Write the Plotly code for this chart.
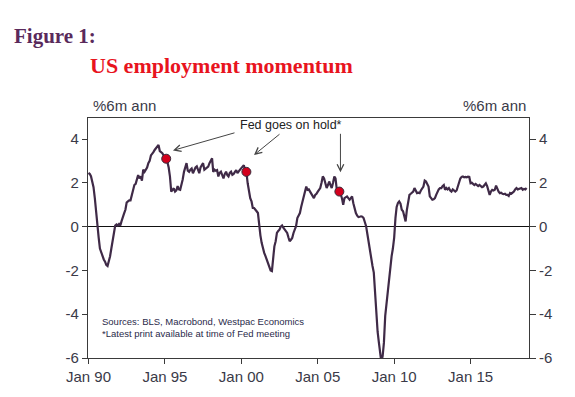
import plotly.graph_objects as go

start_year = 1990
# Monthly values, one row per year (%6m annualised)
values_by_year = [
    [2.45, 2.4, 2.3, 2.1, 1.8, 1.3, 0.6, 0.0, -0.5, -1.0, -1.2, -1.4],          # 1990
    [-1.5, -1.6, -1.75, -1.8, -1.6, -1.35, -1.0, -0.6, -0.2, 0.05, 0.1, 0.05],  # 1991
    [0.12, 0.05, 0.25, 0.47, 0.6, 0.77, 1.1, 1.15, 1.2, 1.2, 1.45, 1.7],        # 1992
    [1.9, 1.95, 2.1, 2.35, 2.2, 2.3, 2.1, 2.6, 2.5, 2.6, 2.7, 2.9],             # 1993
    [3.0, 3.25, 3.3, 3.4, 3.5, 3.6, 3.65, 3.73, 3.45, 3.4, 3.35, 3.25],         # 1994
    [3.15, 3.1, 2.95, 2.7, 2.3, 1.6, 1.7, 1.75, 1.6, 1.65, 1.85, 1.7],          # 1995
    [1.68, 1.9, 2.15, 2.5, 2.75, 2.9, 2.55, 2.5, 2.6, 2.65, 2.44, 2.6],         # 1996
    [2.7, 2.75, 2.55, 2.44, 2.7, 2.8, 2.9, 2.6, 2.65, 2.7, 2.74, 2.9],          # 1997
    [3.0, 3.12, 2.5, 2.6, 2.55, 2.58, 2.29, 2.45, 2.51, 2.35, 2.2, 2.4],        # 1998
    [2.51, 2.35, 2.29, 2.45, 2.51, 2.36, 2.4, 2.5, 2.58, 2.44, 2.5, 2.6],       # 1999
    [2.67, 2.74, 2.8, 2.6, 2.5, 1.98, 1.53, 1.3, 1.15, 0.85, 0.85, 0.75],       # 2000
    [0.7, 0.62, 0.02, -0.4, -0.74, -1.0, -1.2, -1.35, -1.5, -1.7, -1.88, -2.0], # 2001
    [-2.03, -1.2, -0.9, -0.67, -0.29, -0.2, -0.14, 0.0, 0.05, -0.05, -0.14, -0.2],  # 2002
    [-0.29, -0.5, -0.67, -0.6, -0.52, -0.29, -0.1, 0.02, 0.39, 0.5, 0.62, 0.9], # 2003
    [1.15, 1.35, 1.53, 1.83, 1.68, 1.7, 1.6, 1.5, 1.4, 1.3, 1.45, 1.5],         # 2004
    [1.6, 1.68, 1.76, 2.0, 2.29, 2.2, 2.0, 1.76, 1.9, 2.06, 1.9, 1.76],         # 2005
    [2.0, 2.29, 2.2, 1.68, 1.7, 1.6, 1.5, 1.3, 1.0, 1.3, 1.35, 1.38],           # 2006
    [1.3, 1.23, 1.3, 1.38, 1.07, 0.8, 0.62, 0.5, 0.44, 0.45, 0.47, 0.45],       # 2007
    [0.39, 0.2, 0.02, -0.35, -0.74, -1.1, -1.5, -1.8, -2.1, -3.0, -4.08, -4.8], # 2008
    [-5.3, -5.9, -6.2, -5.9, -5.3, -4.08, -3.5, -3.0, -2.4, -1.95, -1.35, -1.0],# 2009
    [-0.5, 0.4, 0.9, 1.08, 1.15, 1.05, 0.77, 0.7, 0.45, 0.24, 0.77, 1.1],       # 2010
    [1.45, 1.5, 1.55, 1.6, 1.76, 1.65, 1.53, 1.55, 1.53, 1.65, 1.75, 1.83],     # 2011
    [2.1, 2.06, 1.95, 1.83, 1.38, 1.3, 1.23, 1.25, 1.3, 1.45, 1.6, 1.7],        # 2012
    [1.76, 1.76, 1.85, 1.9, 1.68, 1.76, 1.7, 1.76, 1.65, 1.6, 1.7, 1.65],       # 2013
    [1.6, 1.65, 1.83, 2.0, 2.2, 2.27, 2.29, 2.25, 2.27, 2.25, 2.28, 2.27],      # 2014
    [1.98, 2.0, 1.95, 1.9, 1.95, 1.9, 1.85, 1.9, 1.83, 1.8, 1.83, 1.9],         # 2015
    [1.98, 1.85, 1.68, 1.45, 1.6, 1.68, 1.65, 1.68, 1.87, 1.7, 1.6, 1.53],      # 2016
    [1.55, 1.5, 1.48, 1.5, 1.45, 1.45, 1.4, 1.53, 1.5, 1.55, 1.6, 1.7],         # 2017
    [1.76, 1.7, 1.72, 1.76, 1.76, 1.68, 1.72, 1.7, 1.76],                       # 2018
]

hold_dates = ["1995-02-01", "2000-05-01", "2006-06-01"]
hold_values = [3.1, 2.5, 1.6]

tick_dates = ["1990-01-01", "1995-01-01", "2000-01-01", "2005-01-01", "2010-01-01", "2015-01-01"]
tick_labels = ["Jan 90", "Jan 95", "Jan 00", "Jan 05", "Jan 10", "Jan 15"]
y_ticks = [-6, -4, -2, 0, 2, 4]
y_tick_labels = ["-6", "-4", "-2", "0", "2", "4"]

dates, values = [], []
for i, row in enumerate(values_by_year):
    for m, v in enumerate(row):
        dates.append(f"{start_year + i}-{m + 1:02d}-01")
        values.append(v)

LINE = "#3f2a47"
TXT = "#3a3a48"
AX = "#3a3a3a"
FONT = "Liberation Sans, Arial, sans-serif"

fig = go.Figure()
fig.add_trace(go.Scatter(x=dates, y=values, mode="lines",
                         line=dict(color=LINE, width=2.2), hoverinfo="skip", showlegend=False))
fig.add_trace(go.Scatter(x=hold_dates, y=hold_values, mode="markers",
                         marker=dict(color="#d3001d", size=9, line=dict(color="#3a2a3a", width=1)),
                         showlegend=False))
# invisible trace for right axis
fig.add_trace(go.Scatter(x=[dates[0]], y=[0], yaxis="y2", mode="markers",
                         marker=dict(opacity=0), showlegend=False, hoverinfo="skip"))

yr = [-6, 4.96]
fig.update_layout(
    width=575, height=397,
    margin=dict(l=80, r=54, t=110, b=47),
    paper_bgcolor="white", plot_bgcolor="white",
    font=dict(family=FONT, color=TXT, size=15),
    xaxis=dict(type="date", range=["1989-12-20", "2018-10-28"],
               tickvals=tick_dates, ticktext=tick_labels,
               ticks="outside", ticklen=5, tickcolor=AX, tickwidth=1.2,
               showgrid=False, zeroline=False,
               showline=True, linecolor=AX, linewidth=1.3, mirror=True,
               tickfont=dict(size=15, color=TXT)),
    yaxis=dict(range=yr, tickvals=y_ticks, ticktext=y_tick_labels, ticks="outside", ticklen=5,
               tickcolor=AX, tickwidth=1.2, showgrid=False,
               zeroline=True, zerolinecolor="#111111", zerolinewidth=1.3,
               showline=True, linecolor=AX, linewidth=1.3, mirror=True,
               tickfont=dict(size=15, color=TXT)),
    yaxis2=dict(range=yr, tickvals=y_ticks, ticktext=y_tick_labels, overlaying="y", side="right",
                ticks="outside", ticklen=6, tickcolor=AX, tickwidth=1.2,
                showgrid=False, zeroline=False, showline=False,
                tickfont=dict(size=15, color=TXT)),
)

ann = []
ann.append(dict(text="<b>Figure 1:</b>", xref="paper", yref="paper", x=(12 - 88) / 441, y=1 + (118 - 36) / 240,
                xanchor="left", yanchor="middle", showarrow=False,
                font=dict(family="Liberation Serif, Times New Roman, serif", size=21, color="#5a2a5c")))
ann.append(dict(text="<b>US employment momentum</b>", xref="paper", yref="paper", x=0, y=1 + (118 - 66) / 240,
                xanchor="left", yanchor="middle", showarrow=False,
                font=dict(family="Liberation Serif, Times New Roman, serif", size=22, color="#e8141e")))
ann.append(dict(text="%6m ann", xref="paper", yref="paper", x=(91 - 88) / 441, y=1 + (118 - 105) / 240,
                xanchor="left", yanchor="middle", showarrow=False, font=dict(size=15, color=TXT)))
ann.append(dict(text="%6m ann", xref="paper", yref="paper", x=(528 - 88) / 441, y=1 + (118 - 105) / 240,
                xanchor="right", yanchor="middle", showarrow=False, font=dict(size=15, color=TXT)))
ann.append(dict(text="Fed goes on hold*", xref="paper", yref="paper", x=(291 - 88) / 441, y=1 - (125 - 118) / 240,
                xanchor="center", yanchor="middle", showarrow=False, font=dict(size=12.5, color="#222222")))
ann.append(dict(text="Sources: BLS, Macrobond, Westpac Economics<br>*Latest print available at time of Fed meeting",
                xref="paper", yref="paper", x=(100 - 88) / 441, y=1 - (327 - 118) / 240,
                xanchor="left", yanchor="middle", align="left", showarrow=False,
                font=dict(size=9.5, color="#2a2a4a")))
# arrows (tip in data coords, tail offset in pixels)
arrows = [("1995-07-13", 3.48, 63, -18), ("2000-10-30", 3.27, 27, -22), ("2006-06-27", 2.48, 0, -40)]
for xa, ya, axo, ayo in arrows:
    ann.append(dict(x=xa, y=ya, xref="x", yref="y", ax=axo, ay=ayo, axref="pixel", ayref="pixel",
                    text="", showarrow=True, arrowhead=5, arrowsize=1.3, arrowwidth=1,
                    arrowcolor="#444444", standoff=0))
fig.update_layout(annotations=ann)

fig.write_html("out.html")
